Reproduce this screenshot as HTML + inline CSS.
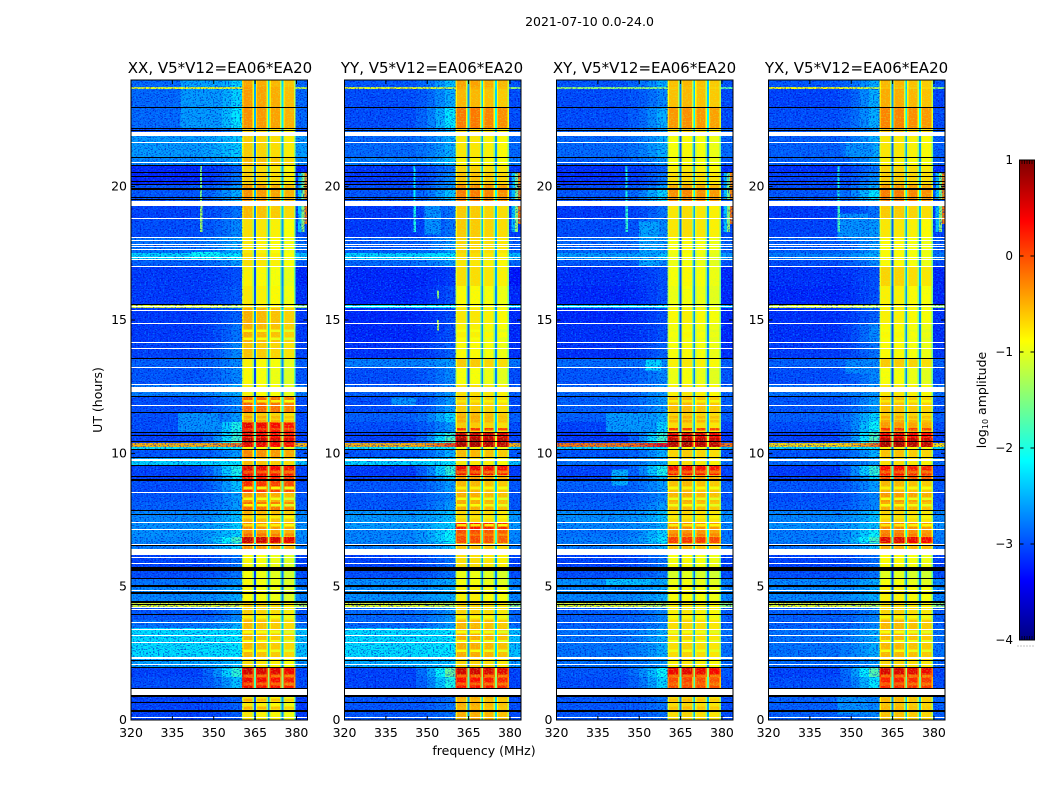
<!DOCTYPE html>
<html><head><meta charset="utf-8"><title>2021-07-10 0.0-24.0</title>
<style>html,body{margin:0;padding:0;background:#fff}svg{display:block}text{font-family:"DejaVu Sans","Liberation Sans",sans-serif;fill:#000}</style>
</head><body>
<svg id="figure" xmlns="http://www.w3.org/2000/svg" width="1050" height="800" viewBox="0 0 1050 800">
<defs>
<filter id="speckle-light" x="0" y="0" width="1" height="1" color-interpolation-filters="sRGB"><feTurbulence type="fractalNoise" baseFrequency="0.6 0.75" numOctaves="1" seed="4"/><feColorMatrix type="matrix" values="0 0 0 0 0  0 0 0 0 0.7  0 0 0 0 1  5 0 0 0 -2.5"/></filter>
<filter id="speckle-dark" x="0" y="0" width="1" height="1" color-interpolation-filters="sRGB"><feTurbulence type="fractalNoise" baseFrequency="0.6 0.75" numOctaves="1" seed="11"/><feColorMatrix type="matrix" values="0 0 0 0 0  0 0 0 0 0  0 0 0 0 0.75  5 0 0 0 -2.5"/></filter>
<filter id="speckle-band" x="0" y="0" width="1" height="1" color-interpolation-filters="sRGB"><feTurbulence type="fractalNoise" baseFrequency="0.6 0.75" numOctaves="1" seed="23"/><feColorMatrix type="matrix" values="0 0 0 0 0.72  0 0 0 0 1  0 0 0 0 0.28  5 0 0 0 -2.5"/></filter>
</defs>
<text x="589.5" y="26" font-size="12.5" text-anchor="middle">2021-07-10 0.0-24.0</text>
<text transform="translate(102,400) rotate(-90)" font-size="12.5" text-anchor="middle">UT (hours)</text>
<text x="484" y="755" font-size="12.5" text-anchor="middle">frequency (MHz)</text>
<text transform="translate(986,400) rotate(-90)" font-size="12.5" text-anchor="middle">log<tspan font-size="8" dy="2">10</tspan><tspan dy="-2"> amplitude</tspan></text>
</svg>
<script>
// Row boundaries of the waterfall (UT hours, top to bottom)
const rowEdgeHours = [24,23.74,23.66,22.99,22.2,21.9,21.11,20.81,20.55,20.06,19.88,19.46,18.83,18.08,17.51,17.29,16.99,16.28,15.56,15.45,14.89,14.14,13.58,13.2,12.56,12.11,11.55,11.18,10.76,10.58,10.39,10.24,10.16,9.86,9.71,9.56,9.19,9,8.55,8.18,7.88,7.43,7.13,6.86,6.64,6.41,6.19,5.74,5.33,5.06,4.39,4.2,3.75,3.45,2.36,1.99,1.61,1.2,0.94,0];

// log10 amplitude per row: off-band background, band-shoulder, in-band level
const xxBackground = [-2.85,-1,-2.85,-2.85,-3,-2.6,-2.7,-3.2,-3.2,-2.95,-2.95,-3.05,-3,-2.8,-2.3,-2.9,-3.1,-3.1,-1,-3.1,-3.1,-3.05,-2.9,-2.95,-2.75,-3,-3,-3,-3.05,-3.05,-0.5,-2.2,-2.95,-2.5,-2.3,-3.05,-3.05,-3,-2.95,-2.9,-2.7,-2.65,-2.65,-2.7,-2.75,-2.75,-3.05,-3,-2.8,-2.7,-1,-2.95,-2.8,-2.25,-2.55,-3.05,-3,-3,-3.05];
const xxShoulder = [-2.3,-1,-2.3,-2.2,-2.6,-2.35,-2.5,-2.9,-2.8,-2.6,-2.5,-2.8,-2.7,-2.5,-2.2,-2.6,-3,-2.95,-1.2,-2.9,-2.8,-2.7,-2.7,-2.7,-2.5,-2.7,-2.6,-2,-1.9,-1.8,-0.2,-2.1,-2.6,-2.4,-2.2,-2,-2.2,-2.4,-2.6,-2.6,-2.4,-2.3,-2.3,-1.8,-2.3,-2.4,-2.8,-2.8,-2.6,-2.5,-1,-2.7,-2.5,-2.2,-2.4,-1.9,-2.4,-2.8,-2.9];
const xxBand = [-0.4,-0.35,-0.35,-0.3,-0.6,-0.6,-0.5,-0.65,-0.6,-0.35,-0.3,-0.5,-0.7,-0.75,-0.7,-0.7,-0.8,-0.75,-0.7,-0.45,-0.45,-0.55,-0.8,-0.85,-0.8,-0.05,-0.55,0.5,0.45,0.7,0.5,-0.8,-0.25,-0.5,-0.5,0.5,0.35,0.2,-0.35,-0.1,-0.45,-0.25,-0.3,0.65,-0.3,-0.5,-0.85,-0.9,-0.85,-0.85,-0.6,-0.6,-0.5,-0.5,-0.7,0.6,0.45,-0.8,-0.75];

const yyBackground = [-2.95,-1,-3,-3,-2.85,-2.85,-2.75,-3.1,-3.1,-3,-2.95,-3.1,-3.1,-2.9,-2.3,-2.85,-3.2,-3.2,-2.2,-3.2,-3.2,-3.15,-2.75,-3,-2.9,-3,-2.9,-3,-3.05,-3.05,-0.5,-2.2,-2.95,-2.4,-2.3,-3.1,-3.05,-2.95,-2.95,-2.95,-2.6,-2.6,-2.7,-2.7,-2.75,-2.75,-3.05,-3,-2.65,-2.65,-1,-2.85,-2.85,-2.25,-2.5,-3.05,-3.05,-3,-2.95];
const yyShoulder = [-2.4,-1.2,-2.5,-2.2,-2.5,-2.5,-2.4,-2.8,-2.7,-2.6,-2.4,-2.8,-2.8,-2.6,-2.2,-2.6,-3.1,-3,-2.1,-3,-3,-2.9,-2.6,-2.7,-2.6,-2.6,-2.3,-2.6,-1.9,-1.7,0,-2.1,-2.5,-2.3,-2.2,-1.9,-2.3,-2.6,-2.7,-2.6,-2.4,-2.3,-2.1,-2.1,-2.4,-2.4,-2.8,-2.8,-2.5,-2.5,-1.2,-2.6,-2.6,-2.2,-2.4,-1.6,-2,-2.7,-2.8];
const yyBand = [-0.35,-0.4,-0.45,-0.15,-0.6,-0.7,-0.75,-0.6,-0.5,-0.25,-0.15,-0.55,-0.55,-0.6,-0.65,-0.7,-0.65,-0.8,-0.8,-0.7,-0.75,-0.8,-0.55,-0.85,-0.65,-0.55,-0.45,-0.55,0.7,0.85,0.85,-0.8,-0.45,-0.7,-0.7,0.5,-0.3,-0.45,-0.4,-0.4,-0.6,0.35,0.1,0.1,-0.5,-0.5,-0.65,-0.9,-0.85,-0.75,-0.6,-0.6,-0.45,-0.4,-0.6,0.65,0.4,-0.8,-0.4];

const xyBackground = [-2.95,-1.4,-3,-3,-2.85,-2.85,-2.9,-3.15,-3.15,-3,-2.95,-3.1,-3,-2.85,-2.6,-2.95,-3.15,-3.2,-2.3,-3.2,-3.15,-3.15,-2.85,-2.95,-2.85,-2.9,-2.9,-3.05,-3.1,-3.1,-0.2,-2.3,-2.95,-2.7,-2.8,-3.05,-3.05,-2.9,-2.95,-2.9,-2.65,-2.7,-2.8,-2.75,-2.75,-2.8,-3.05,-3,-2.65,-2.7,-1,-2.9,-2.9,-2.8,-2.8,-2.95,-3,-3,-2.95];
const xyShoulder = [-2.5,-1.5,-2.7,-2.5,-2.6,-2.5,-2.6,-2.9,-2.8,-2.6,-2.3,-2.8,-2.7,-2.6,-2.4,-2.7,-3,-3,-2.2,-3,-3,-2.9,-2.7,-2.7,-2.6,-2.6,-2.5,-2.3,-1.9,-1.8,0.3,-2.2,-2.5,-2.5,-2.5,-2,-2.4,-2.6,-2.7,-2.6,-2.4,-2.5,-2.3,-2.2,-2.5,-2.5,-2.8,-2.8,-2.5,-2.5,-1.2,-2.7,-2.7,-2.5,-2.6,-2.1,-2.3,-2.7,-2.8];
const xyBand = [-0.45,-0.5,-0.45,-0.25,-0.55,-0.8,-0.8,-0.7,-0.6,-0.35,-0.2,-0.65,-0.65,-0.8,-0.85,-0.85,-0.8,-0.85,-0.85,-0.75,-0.8,-0.8,-0.7,-0.85,-0.7,-0.45,-0.55,-0.6,0.6,0.8,0.85,-0.8,-0.55,-0.65,-0.65,0.45,-0.3,-0.45,-0.4,-0.45,-0.6,-0.2,-0.25,0.2,-0.45,-0.6,-0.8,-0.95,-0.85,-0.8,-0.7,-0.7,-0.6,-0.6,-0.7,0.55,0.15,-0.8,-0.6];

const yxBackground = [-2.95,-0.9,-3.05,-3,-2.9,-2.9,-2.9,-3.15,-3.05,-3,-2.95,-3.1,-3.05,-2.9,-2.75,-3,-3.15,-3.2,-1,-3.15,-3.15,-3.1,-2.9,-3,-2.8,-2.95,-2.9,-3,-3.05,-3.05,-0.7,-2.3,-2.95,-2.7,-2.85,-3.1,-3.05,-2.95,-3,-2.95,-2.7,-2.65,-2.75,-2.75,-2.8,-2.85,-3.05,-3,-2.7,-2.7,-1,-2.9,-2.9,-2.8,-2.85,-3.05,-3,-3,-2.9];
const yxShoulder = [-2.5,-1.2,-2.5,-2.5,-2.6,-2.5,-2.6,-2.8,-2.7,-2.5,-2.2,-2.8,-2.6,-2.6,-2.5,-2.7,-3,-3,-1.2,-2.9,-2.7,-2.8,-2.7,-2.7,-2.6,-2.6,-2.3,-2.1,-1.8,-1.7,-0.2,-2.1,-2.5,-2.5,-2.6,-1.9,-2.3,-2.6,-2.7,-2.7,-2.4,-2.4,-2.1,-1.8,-2.4,-2.6,-2.8,-2.8,-2.5,-2.5,-1.2,-2.7,-2.7,-2.5,-2.6,-1.7,-2.2,-2.7,-2.7];
const yxBand = [-0.45,-0.5,-0.4,-0.2,-0.5,-0.7,-0.75,-0.6,-0.55,-0.3,-0.15,-0.55,-0.7,-0.8,-0.8,-0.8,-0.6,-0.75,-0.8,-0.75,-0.8,-0.8,-0.55,-0.85,-0.7,-0.5,-0.55,-0.3,0.5,0.8,0.85,-0.75,-0.5,-0.65,-0.65,0.4,0.1,-0.45,-0.3,-0.4,-0.6,-0.2,-0.2,0.55,-0.4,-0.6,-0.8,-0.95,-0.85,-0.75,-0.65,-0.6,-0.45,-0.45,-0.6,0.6,0.3,-0.8,-0.5];

// Sub-band limits in MHz and per-polarisation sub-band level offsets
const subbandStarts = [360.3,365.3,370.3,375.3];
const subbandEnds = [364.6,369.6,374.6,379.6];
const xxSubbandOffsets = [0,-0.05,-0.1,-0.18];
const yySubbandOffsets = [-0.05,-0.05,-0.1,-0.15];
const xySubbandOffsets = [-0.1,-0.05,-0.1,-0.15];
const yxSubbandOffsets = [-0.05,-0.05,-0.1,-0.15];

// Thin streaks inside the sub-bands (UT hours) and their levels
const bandStreakHours = [0.45,0.75,1.35,1.65,2.6,2.95,3.3,3.85,6.95,7.3,7.6,8.05,8.3,8.7,9.3,10.9,11.2,11.35,11.95,14.3,14.6];
const bandStreakLevels = [-0.45,-0.45,0,-0.05,-0.85,-0.85,-0.85,-0.8,-0.1,-0.7,-0.7,-0.85,-0.85,-0.75,0,0.2,-0.4,-0.4,-0.7,-0.85,-0.85];

// Localised features: [startHour, endHour, startMHz, endMHz, log10 amplitude]
const xxFeatures = [[22.2,23.66,338,353,-2.6],[23.74,24,338,353,-2.55],[10.8,11.55,337,352,-2.65],[18.3,19.27,380.5,381.8,-2.4],[18.3,19.27,381.8,383,-1.4],[18.6,19.27,383,384,-0.2],[19.5,20.55,380.5,381.8,-2.4],[19.5,20.55,381.8,383,-1.5],[19.5,20.55,383,384,-0.3],[19.46,20.78,345,345.8,-1.5],[18.3,19.27,345,346,-1.3],[17.3,17.55,342,352,-2.1]];
const yyFeatures = [[18.2,19.27,349,355,-2.65],[18.3,19.27,380.5,381.8,-2.4],[18.3,19.27,381.8,383,-1.4],[18.6,19.27,383,384,-0.2],[19.5,20.55,380.5,381.8,-2.4],[19.5,20.55,381.8,383,-1.5],[19.5,20.55,383,384,-0.3],[19.46,20.78,345,345.8,-2.1],[18.3,19.27,345,346,-2],[15.8,16.1,353.6,354.2,-1.4],[14.6,15,353.6,354.2,-1.2],[11.8,12.1,337,346,-2.65]];
const xyFeatures = [[17,18.7,350,357,-2.55],[10.8,11.55,338,356,-2.6],[8.8,9.4,340,346,-2.5],[13.1,13.5,352,358,-2.3],[18.3,19.27,380.5,381.8,-2.4],[18.3,19.27,381.8,383,-1.4],[18.6,19.27,383,384,-0.2],[19.5,20.55,380.5,381.8,-2.4],[19.5,20.55,381.8,383,-1.5],[19.5,20.55,383,384,-0.3],[19.46,20.78,345,345.8,-2],[18.3,19.27,345,346,-1.9],[5,5.33,338,354,-2.4]];
const yxFeatures = [[18,19,345,356,-2.65],[21.1,21.7,348,358,-2.65],[13,13.5,348,358,-2.7],[18.3,19.27,380.5,381.8,-2.4],[18.3,19.27,381.8,383,-1.4],[18.6,19.27,383,384,-0.2],[19.5,20.55,380.5,381.8,-2.4],[19.5,20.55,381.8,383,-1.5],[19.5,20.55,383,384,-0.3],[19.46,20.78,345,345.8,-2],[18.3,19.27,345,346,-1.8],[0.2,0.9,345,356,-2.65]];

// Flagged time ranges: [startHour, endHour]
const whiteFlags = [[22.05,21.9],[21.675,21.64],[20.925,20.89],[19.46,19.275],[18.825,18.79],[18.11,18.08],[18,17.96],[17.85,17.81],[17.775,17.74],[17.66,17.625],[17.36,17.325],[17.29,17.25],[17.025,16.99],[15.525,15.49],[15.375,15.34],[14.89,14.85],[14.175,14.14],[13.95,13.91],[13.24,13.2],[12.6,12.56],[12.49,12.3],[11.81,11.775],[9.79,9.71],[8.55,8.51],[7.425,7.39],[7.16,7.125],[6.6,6.56],[6.41,6.19],[6.11,6.075],[5.89,5.85],[4.875,4.84],[4.24,4.2],[4.16,4.125],[3.675,3.64],[3.41,3.375],[3.19,3.15],[2.925,2.89],[2.36,2.29],[2.1,2.06],[1.16,0.94],[0.11,0.075]];
const blackFlags = [[22.99,22.95],[22.2,22.16],[22.125,22.09],[21.11,21.075],[20.81,20.775],[20.55,20.51],[20.4,20.36],[20.21,20.175],[20.1,20.06],[19.95,19.875],[19.61,19.575],[19.54,19.5],[15.6,15.56],[13.575,13.54],[12.15,12.11],[11.55,11.51],[10.8,10.76],[10.69,10.65],[10.46,10.425],[10.16,10.125],[9.86,9.825],[9.56,9.525],[9.15,9.11],[9.04,8.96],[7.875,7.84],[7.725,7.69],[6.56,6.525],[5.74,5.59],[5.325,5.29],[5.06,4.99],[4.8,4.725],[4.46,4.39],[4.35,4.31],[3.975,3.94],[2.25,2.21],[1.99,1.95],[1.2,1.16],[0.94,0.86],[0.675,0.64],[0.375,0.3]];

// Axis labels
const xTickValues = [320,335,350,365,380];
const yTickValues = [0,5,10,15,20];
const colorbarTicks = [1,0,-1,-2,-3,-4];
const panelTitles = ["XX, V5*V12=EA06*EA20","YY, V5*V12=EA06*EA20","XY, V5*V12=EA06*EA20","YX, V5*V12=EA06*EA20"];
const panelKeys = ["xx","yy","xy","yx"];

const svgNS = "http://www.w3.org/2000/svg";
const figure = document.getElementById("figure");
const panelLefts = [131,344.5,556.5,768.5];
const titleCenters = [220,432,644.5,856.5];
const panelWidth = 176.5, plotTop = 80, plotBottom = 720;
const freqMin = 320, freqMax = 384, hourMax = 24, valueMin = -4, valueMax = 1;
const edgeDrop = 0.65, gapDrop = 1.9, gapDropFirst = 2.2, streakSpan = 0.05;

function yOfHour(h){return plotBottom-(h/hourMax)*(plotBottom-plotTop);}
function xScale(left){return function(f){return left+(f-freqMin)/(freqMax-freqMin)*panelWidth;};}

function jet(v){
  const t=Math.max(0,Math.min(1,(v-valueMin)/(valueMax-valueMin)));
  const c=x=>Math.round(255*Math.max(0,Math.min(1,x)));
  const r=Math.min(4*t-1.5,-4*t+4.5), g=Math.min(4*t-0.5,-4*t+3.5), b=Math.min(4*t+0.5,-4*t+2.5);
  return "rgb("+c(r)+","+c(g)+","+c(b)+")";
}
function make(tag,parent,attrs){
  const el=document.createElementNS(svgNS,tag);
  for(const k in attrs){el.setAttribute(k,attrs[k]);}
  parent.appendChild(el);
  return el;
}
function cell(parent,x0,x1,y0,y1,v){
  const el=make("rect",parent,{x:x0,y:y0,width:Math.max(0,x1-x0),height:Math.max(0,y1-y0),fill:jet(v),"shape-rendering":"crispEdges"});
  
  
  return el;
}

const panelData = {
  xx:{bg:xxBackground,sh:xxShoulder,band:xxBand,off:xxSubbandOffsets,feat:xxFeatures},
  yy:{bg:yyBackground,sh:yyShoulder,band:yyBand,off:yySubbandOffsets,feat:yyFeatures},
  xy:{bg:xyBackground,sh:xyShoulder,band:xyBand,off:xySubbandOffsets,feat:xyFeatures},
  yx:{bg:yxBackground,sh:yxShoulder,band:yxBand,off:yxSubbandOffsets,feat:yxFeatures}
};

panelKeys.forEach(function(key,p){
  const d=panelData[key], left=panelLefts[p], right=left+panelWidth, x=xScale(left);
  const g=make("g",figure,{});
  
  
  const cells=make("g",g,{});
  
  
  for(let i=0;i<rowEdgeHours.length-1;i++){
    const y0=yOfHour(rowEdgeHours[i]), y1=yOfHour(rowEdgeHours[i+1]);
    const bg=d.bg[i], sh=d.sh[i], bd=d.band[i];
    cell(cells,x(320),x(346),y0,y1,bg);
    cell(cells,x(346),x(350),y0,y1,bg+(sh-bg)*0.15);
    cell(cells,x(350),x(353),y0,y1,bg+(sh-bg)*0.35);
    cell(cells,x(353),x(356.5),y0,y1,bg+(sh-bg)*0.65);
    cell(cells,x(356.5),x(subbandStarts[0]),y0,y1,sh);
    for(let k=0;k<subbandStarts.length;k++){
      const lv=bd+d.off[k], a=subbandStarts[k], b=subbandEnds[k];
      cell(cells,x(a),x(a+0.45),y0,y1,lv-edgeDrop*0.5);
      cell(cells,x(a+0.45),x(b-0.55),y0,y1,lv);
      cell(cells,x(b-0.55),x(b),y0,y1,lv-edgeDrop);
      if(k<subbandStarts.length-1){
        cell(cells,x(b),x(subbandStarts[k+1]),y0,y1,bd-(k===0?gapDropFirst:gapDrop));
      }
    }
    cell(cells,x(subbandEnds[3]),x(freqMax),y0,y1,Math.min(bg,sh-0.2));
  }
  bandStreakHours.forEach(function(h,s){
    for(let k=0;k<subbandStarts.length;k++){
      cell(cells,x(subbandStarts[k]+0.45),x(subbandEnds[k]-0.55),yOfHour(h+streakSpan),yOfHour(h-streakSpan),bandStreakLevels[s]+d.off[k]);
    }
  });
  d.feat.forEach(function(ft){
    cell(cells,x(ft[2]),x(ft[3]),yOfHour(ft[1]),yOfHour(ft[0]),ft[4]);
  });
  // fine grain texture over the off-band and in-band parts
  [[320,subbandStarts[0]],[subbandEnds[3]+0.1,freqMax]].forEach(function(r){
    [["speckle-light",0.42],["speckle-dark",0.6]].forEach(function(fs){
      const t=make("rect",g,{x:x(r[0]),y:plotTop,width:x(r[1])-x(r[0]),height:plotBottom-plotTop,filter:"url(#"+fs[0]+")",opacity:fs[1]});
      
      
    });
  });
  subbandStarts.forEach(function(a,k){
    const t=make("rect",g,{x:x(a+0.45),y:plotTop,width:x(subbandEnds[k]-0.55)-x(a+0.45),height:plotBottom-plotTop,filter:"url(#speckle-band)",opacity:0.35});
    
    
  });
  whiteFlags.forEach(function(f){
    const el=make("rect",g,{x:left,y:Math.round(yOfHour(f[0])),width:panelWidth,height:Math.max(1,Math.round(yOfHour(f[1])-yOfHour(f[0]))),fill:"#fff","shape-rendering":"crispEdges"});
    
    
  });
  blackFlags.forEach(function(f){
    const el=make("rect",g,{x:left,y:Math.round(yOfHour(f[0])),width:panelWidth,height:Math.max(1,Math.round(yOfHour(f[1])-yOfHour(f[0]))),fill:"#000","shape-rendering":"crispEdges"});
    
    
  });
  const frame=make("rect",g,{x:left,y:plotTop,width:panelWidth,height:plotBottom-plotTop,fill:"none",stroke:"#000","stroke-width":1});
  
  
  xTickValues.forEach(function(t){
    const tx=x(t);
    const b=make("path",g,{d:"M"+tx+" "+plotBottom+"v-4M"+tx+" "+plotTop+"v4",stroke:"#000","stroke-width":1,fill:"none"});
    
    
    const lab=make("text",g,{x:tx,y:737,"font-size":12.5,"text-anchor":"middle"});
    lab.textContent=t;
    
    
  });
  yTickValues.forEach(function(t){
    const ty=yOfHour(t);
    const b=make("path",g,{d:"M"+left+" "+ty+"h4M"+right+" "+ty+"h-4",stroke:"#000","stroke-width":1,fill:"none"});
    
    
    const lab=make("text",g,{x:left-4,y:ty+4,"font-size":12.5,"text-anchor":"end"});
    lab.textContent=t;
    
    
  });
  const title=make("text",g,{x:titleCenters[p],y:73,"font-size":15,"text-anchor":"middle"});
  title.textContent=panelTitles[p];
  
  
});

// colour bar
(function(){
  const barLeft=1019.5, barWidth=15, barTop=160, barBottom=640;
  const yOfValue=v=>barBottom-(v-valueMin)/(valueMax-valueMin)*(barBottom-barTop);
  const g=make("g",figure,{});
  
  
  const steps=240;
  for(let i=0;i<steps;i++){
    const v=valueMin+(i+0.5)/steps*(valueMax-valueMin);
    const y1=barBottom-i/steps*(barBottom-barTop);
    const s=make("rect",g,{x:barLeft,y:y1-(barBottom-barTop)/steps,width:barWidth,height:(barBottom-barTop)/steps+0.5,fill:jet(v),"shape-rendering":"crispEdges"});
    
    
  }
  const fr=make("rect",g,{x:barLeft,y:barTop,width:barWidth,height:barBottom-barTop,fill:"none",stroke:"#000","stroke-width":1});
  
  
  colorbarTicks.forEach(function(t){
    const ty=yOfValue(t);
    const m=make("path",g,{d:"M"+barLeft+" "+ty+"h4M"+(barLeft+barWidth)+" "+ty+"h-4",stroke:"#000",fill:"none"});
    
    
    const lab=make("text",g,{x:1013,y:ty+4,"font-size":12,"text-anchor":"end"});
    lab.textContent=String(t).replace("-","\u2212");
    
    
  });
  const minor=make("path",g,{d:"M1022 160v4M1024.5 160v4M1027 160v4M1029.5 160v4M1032 160v4M1022 640v-4M1024.5 640v-4M1027 640v-4M1029.5 640v-4M1032 640v-4",stroke:"#000","stroke-width":0.7,fill:"none"});
  
  
  const dots=make("path",g,{d:"M1017.5 646H1035",stroke:"#888","stroke-width":1,"stroke-dasharray":"1 2",fill:"none"});
  
  
})();
</script>
</body></html>
